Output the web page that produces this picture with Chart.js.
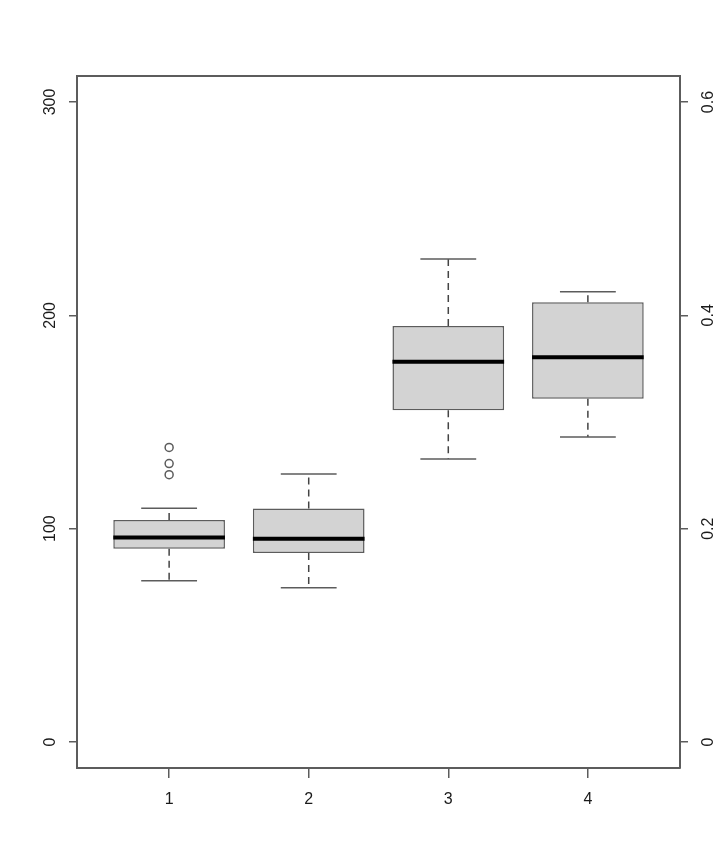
<!DOCTYPE html>
<html>
<head>
<meta charset="utf-8">
<script src="https://cdn.jsdelivr.net/npm/chart.js@4"></script>
<style>
    body { margin: 0; background: #fff; }
    #wrap { width: 720px; height: 864px; position: relative; }
</style>
</head>
<body>
<div id="wrap"><canvas id="boxChart"></canvas></div>
<script>
// box plot values
const categories = [1, 2, 3, 4];
const categoryLabels = ['1', '2', '3', '4'];
const lowerWhisker = [75.6, 72.3, 132.7, 143.0];
const q1 = [90.6, 88.6, 155.5, 160.9];
const median = [95.9, 95.3, 178.3, 180.3];
const q3 = [104.1, 109.4, 195.0, 206.1];
const upperWhisker = [109.6, 125.6, 226.4, 211.1];
const outliers = [[138.1, 130.5, 125.3], [], [], []];
const leftTicks = [0, 100, 200, 300];
const rightTicks = [0, 0.2, 0.4, 0.6];

const frameColor = '#5c5c5c';
const textColor = '#1a1a1a';
const tickFont = { family: "'Liberation Sans', Arial, sans-serif", size: 16 };

// build line segments (null separates them)
const whiskerPts = [], capPts = [], medianPts = [], outlierPts = [];
categories.forEach((c, i) => {
    whiskerPts.push({x: c, y: q3[i]}, {x: c, y: upperWhisker[i]}, {x: c, y: null});
    whiskerPts.push({x: c, y: q1[i]}, {x: c, y: lowerWhisker[i]}, {x: c, y: null});
    capPts.push({x: c - 0.2, y: upperWhisker[i]}, {x: c + 0.2, y: upperWhisker[i]}, {x: c, y: null});
    capPts.push({x: c - 0.2, y: lowerWhisker[i]}, {x: c + 0.2, y: lowerWhisker[i]}, {x: c, y: null});
    medianPts.push({x: c - 0.4, y: median[i]}, {x: c + 0.4, y: median[i]}, {x: c, y: null});
    outliers[i].forEach(v => outlierPts.push({x: c, y: v}));
});

const setTicks = (vals) => (scale) => { scale.ticks = vals.map(v => ({value: v})); };

const ctx = document.getElementById('boxChart').getContext('2d');
new Chart(ctx, {
    type: 'bar',
    data: {
        datasets: [
            {
                type: 'line',
                data: medianPts,
                borderColor: '#000',
                borderWidth: 4,
                pointRadius: 0,
                spanGaps: false,
                order: 1
            },
            {
                type: 'line',
                data: outlierPts,
                showLine: false,
                pointStyle: 'circle',
                pointRadius: 4,
                borderColor: frameColor,
                borderWidth: 1.5,
                backgroundColor: 'rgba(0,0,0,0)',
                order: 2
            },
            {
                type: 'line',
                data: capPts,
                borderColor: frameColor,
                borderWidth: 1.5,
                pointRadius: 0,
                spanGaps: false,
                order: 3
            },
            {
                type: 'line',
                data: whiskerPts,
                borderColor: '#444',
                borderWidth: 1.5,
                borderDash: [7, 5],
                pointRadius: 0,
                spanGaps: false,
                order: 4
            },
            {
                type: 'bar',
                data: categories.map((c, i) => ({x: c, y: [q1[i], q3[i]]})),
                backgroundColor: '#d3d3d3',
                borderColor: frameColor,
                borderWidth: 1.5,
                borderSkipped: false,
                barPercentage: 0.8,
                categoryPercentage: 1,
                order: 5
            }
        ]
    },
    options: {
        responsive: true,
        maintainAspectRatio: false,
        animation: false,
        devicePixelRatio: 1,
        layout: { padding: { top: 76, left: 0, right: 0, bottom: 0 } },
        scales: {
            x: {
                type: 'linear',
                position: 'bottom',
                min: 0.34,
                max: 4.66,
                offset: false,
                afterBuildTicks: setTicks(categories),
                afterFit: (s) => { s.height = 96; },
                grid: { display: true, offset: false, drawOnChartArea: false, tickLength: 10, color: frameColor, lineWidth: 1.5 },
                border: { display: true, color: frameColor, width: 2 },
                ticks: {
                    color: textColor, font: tickFont, padding: 12, maxRotation: 0,
                    callback: (v) => categoryLabels[categories.indexOf(v)]
                }
            },
            xTop: {
                type: 'linear',
                position: 'top',
                display: true,
                min: 0.34,
                max: 4.66,
                afterFit: (s) => { s.height = 0; },
                grid: { display: false },
                border: { display: true, color: frameColor, width: 2 },
                ticks: { display: false }
            },
            y: {
                type: 'linear',
                position: 'left',
                min: -12.2,
                max: 312.2,
                bounds: 'data',
                afterBuildTicks: setTicks(leftTicks),
                afterFit: (s) => { s.width = 77; },
                grid: { display: true, drawOnChartArea: false, tickLength: 8, color: frameColor, lineWidth: 1.5 },
                border: { display: true, color: frameColor, width: 2 },
                ticks: { color: textColor, font: tickFont, padding: 5, minRotation: 90, maxRotation: 90, crossAlign: 'center' }
            },
            y2: {
                type: 'linear',
                position: 'right',
                min: -0.0244,
                max: 0.6244,
                bounds: 'data',
                afterBuildTicks: setTicks(rightTicks),
                afterFit: (s) => { s.width = 40; },
                grid: { display: true, drawOnChartArea: false, tickLength: 8, color: frameColor, lineWidth: 1.5 },
                border: { display: true, color: frameColor, width: 2 },
                ticks: { color: textColor, font: tickFont, padding: 9, minRotation: 90, maxRotation: 90, crossAlign: 'center' }
            }
        },
        plugins: {
            legend: { display: false },
            tooltip: { enabled: false }
        }
    }
});
</script>
</body>
</html>
